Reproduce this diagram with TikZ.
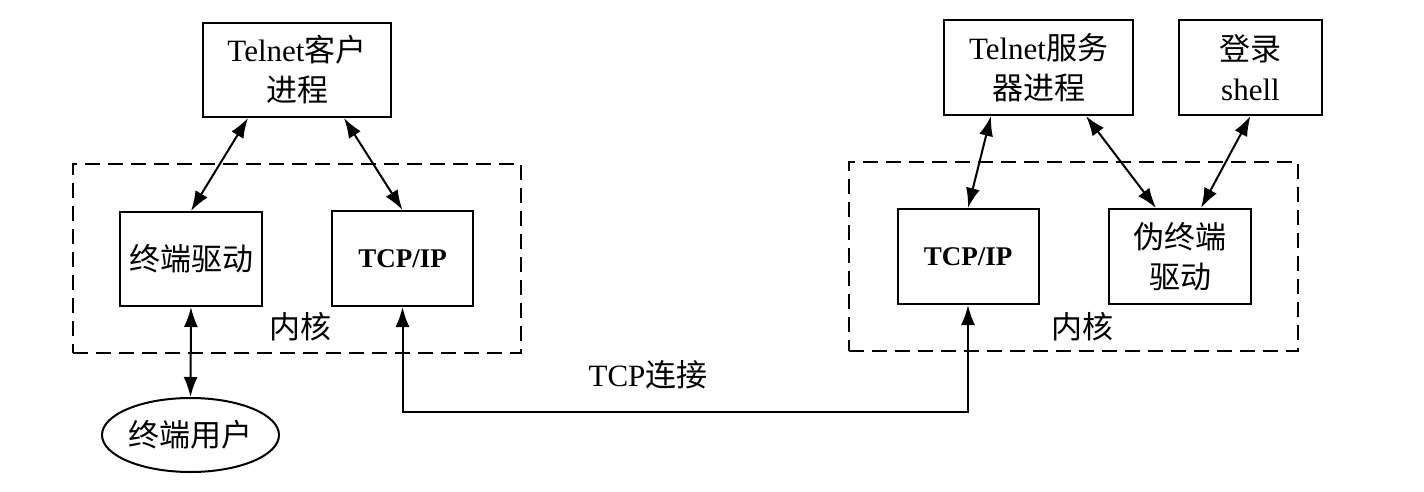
\documentclass[tikz,border=0pt]{standalone}
\usepackage{fontspec}
\setmainfont{Liberation Serif}
\newfontfamily\cjk{Noto Sans CJK SC}
\usetikzlibrary{arrows.meta,shapes.geometric,positioning}
\begin{document}
\begin{tikzpicture}[x=1pt,y=-1pt,
  box/.style={draw,line width=2pt,minimum width=#1,inner sep=0pt,align=center,font=\fontsize{31}{40}\selectfont},
  tcpbox/.style={draw,line width=2pt,minimum width=141pt,minimum height=95pt,inner sep=0pt,font=\fontsize{27}{30}\selectfont\bfseries},
  kernel/.style={draw,dashed,dash pattern=on 15pt off 8pt,line width=2pt},
  lbl/.style={font=\fontsize{31}{40}\selectfont\cjk},
  conn/.style={line width=2pt,{Latex[length=20pt,width=14pt]}-{Latex[length=20pt,width=14pt]}}
]
\useasboundingbox (0,0) rectangle (1424,492);
% kernel frames
\node[kernel,minimum width=448pt,minimum height=189pt,inner sep=0pt] (kl) at (297,258.5) {};
\node[kernel,minimum width=449pt,minimum height=189pt,inner sep=0pt] (kr) at (1073.5,256.5) {};
% left side
\node[box=188pt,minimum height=94pt] (client) at (297,70) {Telnet{\cjk 客户}\\{\cjk 进程}};
\node[box=142pt,minimum height=94pt] (tdrv) at (191,259) {\cjk 终端驱动};
\node[tcpbox] (ltcp) at (402.5,258.5) {TCP/IP};
\node[draw,ellipse,line width=2pt,minimum width=177pt,minimum height=74pt,inner sep=0pt,font=\fontsize{31}{40}\selectfont\cjk] (user) at (190.5,435) {终端用户};
\node[lbl] (kll) at (300,327) {内核};
% right side
\node[box=189pt,minimum height=95pt] (server) at (1038.5,67.5) {Telnet{\cjk 服务}\\{\cjk 器进程}};
\node[box=143pt,minimum height=95pt] (shell) at (1250.5,67.5) {{\cjk 登录}\\shell};
\node[tcpbox] (rtcp) at (968,256.5) {TCP/IP};
\node[box=142pt,minimum height=95pt] (pty) at (1180,256.5) {\cjk 伪终端\\\cjk 驱动};
\node[lbl] (krl) at (1082,327) {内核};
% TCP connection label
\node[font=\fontsize{31}{40}\selectfont] (tcplabel) at (648,375) {TCP{\cjk 连接}};
\coordinate (tcpy) at (0,412);
% connectors
\draw[conn] ([xshift=46pt]client.south west) -- (tdrv.north);
\draw[conn] ([xshift=142pt]client.south west) -- (ltcp.north);
\draw[conn] (tdrv.south) -- (user.north);
\draw[conn] (ltcp.south) -- (ltcp.south |- tcpy) -| (rtcp.south);
\draw[conn] ([xshift=48pt]server.south west) -- (rtcp.north);
\draw[conn] ([xshift=143pt]server.south west) -- ([xshift=48pt]pty.north west);
\draw[conn] (shell.south) -- ([xshift=93pt]pty.north west);
\end{tikzpicture}
\end{document}
